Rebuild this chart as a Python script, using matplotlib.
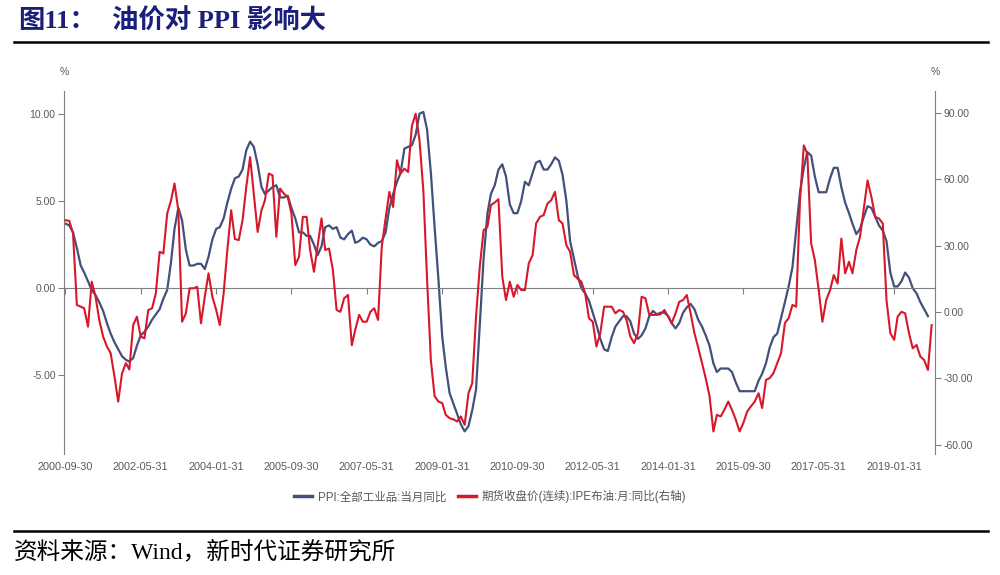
import pandas as pd
import matplotlib
matplotlib.use("Agg")
import matplotlib.pyplot as plt
import matplotlib.dates as mdates
from matplotlib.lines import Line2D
from matplotlib.ticker import FormatStrFormatter

plt.rcParams['font.family'] = ['Liberation Sans', 'Noto Sans CJK SC', 'DejaVu Sans']

# PPI:全部工业品:当月同比 (%), monthly from 2000-09
ppi = [3.7, 3.6, 3.2, 2.3,
       1.3, 0.9, 0.4, -0.1, -0.4, -0.8, -1.3, -2.0, -2.6, -3.1, -3.5, -3.9,   # 2001
       -4.1, -4.2, -4.0, -3.3, -2.7, -2.5, -2.2, -1.8, -1.5, -1.2, -0.6, -0.1,  # 2002
       1.5, 3.4, 4.6, 3.9, 2.2, 1.3, 1.3, 1.4, 1.4, 1.1, 1.8, 2.8,            # 2003
       3.4, 3.5, 4.0, 4.9, 5.7, 6.3, 6.4, 6.8, 7.9, 8.4, 8.1, 7.1,            # 2004
       5.8, 5.4, 5.6, 5.8, 5.9, 5.2, 5.2, 5.3, 4.6, 4.0, 3.2, 3.2,            # 2005
       3.0, 3.0, 2.5, 1.9, 2.4, 3.5, 3.6, 3.4, 3.5, 2.9, 2.8, 3.1,            # 2006
       3.3, 2.6, 2.7, 2.9, 2.8, 2.5, 2.4, 2.6, 2.7, 3.2, 4.6, 5.4,            # 2007
       6.1, 6.6, 8.0, 8.1, 8.2, 8.8, 10.0, 10.1, 9.1, 6.6, 3.5, 0.5,          # 2008
       -2.8, -4.5, -6.0, -6.6, -7.2, -7.8, -8.2, -7.9, -7.0, -5.8, -2.1, 1.7, # 2009
       4.3, 5.4, 5.9, 6.8, 7.1, 6.4, 4.8, 4.3, 4.3, 5.0, 6.1, 5.9,            # 2010
       6.6, 7.2, 7.3, 6.8, 6.8, 7.1, 7.5, 7.3, 6.5, 5.0, 2.7, 1.7,            # 2011
       0.7, 0.0, -0.3, -0.7, -1.4, -2.1, -2.9, -3.5, -3.6, -2.8, -2.2, -1.9,  # 2012
       -1.6, -1.6, -1.9, -2.6, -2.9, -2.7, -2.3, -1.6, -1.3, -1.5, -1.4, -1.4,  # 2013
       -1.6, -2.0, -2.3, -2.0, -1.4, -1.1, -0.9, -1.2, -1.8, -2.2, -2.7, -3.3,  # 2014
       -4.3, -4.8, -4.6, -4.6, -4.6, -4.8, -5.4, -5.9, -5.9, -5.9, -5.9, -5.9,  # 2015
       -5.3, -4.9, -4.3, -3.4, -2.8, -2.6, -1.7, -0.8, 0.1, 1.2, 3.3, 5.5,    # 2016
       6.9, 7.8, 7.6, 6.4, 5.5, 5.5, 5.5, 6.3, 6.9, 6.9, 5.8, 4.9,            # 2017
       4.3, 3.7, 3.1, 3.4, 4.1, 4.7, 4.6, 4.1, 3.6, 3.3, 2.7, 0.9,            # 2018
       0.1, 0.1, 0.4, 0.9, 0.6, 0.0, -0.3, -0.8, -1.2, -1.6]                  # 2019

# 期货收盘价(连续):IPE布油:月:同比 (%), monthly from 2000-09
oil = [41.5, 41.2, 35.5, 3.2,
       2.4, 1.7, -6.6, 13.7, 6.9, -3.6, -11.1, -15.6, -18.6, -29.2, -40.5, -27.7,   # 2001
       -23.1, -26.0, -5.9, -2.1, -11.1, -11.9, 0.9, 1.7, 8.4, 27.2, 26.5, 44.5,     # 2002
       50.5, 58.1, 46.0, -4.4, -0.6, 10.7, 10.7, 11.4, -5.1, 6.9, 17.5, 6.9,        # 2003
       0.9, -5.9, 8.4, 28.0, 46.0, 33.0, 32.5, 41.5, 56.5, 70.0, 53.5, 36.2,        # 2004
       46.0, 50.5, 62.6, 61.8, 34.0, 55.8, 53.5, 52.0, 44.5, 21.2, 24.9, 43.0,      # 2005
       43.0, 28.0, 18.2, 30.2, 42.3, 28.0, 28.7, 19.0, 0.9, 0.1, 6.2, 7.7,          # 2006
       -15.0, -8.0, -1.3, -4.4, -4.4, 0.1, 1.7, -3.6, 29.5, 42.3, 54.3, 47.5,       # 2007
       68.6, 62.6, 64.8, 63.3, 84.3, 89.6, 77.6, 55.0, 15.0, -22.0, -38.0, -40.5,   # 2008
       -41.2, -46.5, -48.0, -48.5, -49.5, -47.2, -51.0, -36.7, -32.2, -2.0, 20.4, 37.0,  # 2009
       38.5, 48.3, 49.5, 51.0, 16.0, 5.4, 13.7, 6.9, 12.2, 9.9, 9.9, 22.0,          # 2010
       25.7, 40.0, 43.0, 43.8, 49.0, 50.5, 54.3, 41.5, 40.0, 30.2, 27.2, 16.7,      # 2011
       15.0, 13.7, 8.4, -2.8, -4.4, -15.6, -9.6, 2.4, 2.4, 2.4, -0.6, 0.9,          # 2012
       0.1, -3.6, -11.1, -14.1, -9.6, 6.9, 6.2, -1.3, -1.3, -1.3, -1.0, 0.9,        # 2013
       -2.1, -5.1, -0.6, 4.6, 5.4, 7.7, -0.6, -9.6, -16.0, -23.0, -30.0, -38.0,     # 2014
       -54.0, -46.5, -47.2, -44.2, -40.5, -44.2, -48.7, -54.0, -50.2, -45.0, -42.7, -40.5,  # 2015
       -36.7, -43.4, -30.7, -29.9, -27.6, -23.1, -18.6, -5.0, -2.8, 3.2, 2.4, 50.5,  # 2016
       75.3, 71.6, 31.0, 23.5, 9.9, -4.4, 5.4, 9.9, 16.7, 12.9, 33.2, 17.5,         # 2017
       22.7, 17.5, 28.0, 34.0, 47.0, 59.5, 52.0, 43.0, 42.3, 40.0, 5.4, -9.6,       # 2018
       -12.6, -2.1, 0.1, -0.6, -9.6, -16.4, -14.9, -20.2, -21.7, -26.2, -5.9]       # 2019

ppi_dates = pd.date_range('2000-09-30', periods=len(ppi), freq='ME')
oil_dates = pd.date_range('2000-09-30', periods=len(oil), freq='ME')
tick_dates = ppi_dates[::20]
tick_labels = [d.strftime('%Y-%m-%d') for d in tick_dates]

ppi_label = 'PPI:全部工业品:当月同比'
oil_label = '期货收盘价(连续):IPE布油:月:同比(右轴)'

blue = '#44507c'
red = '#d7182a'
grey = '#808080'
text_grey = '#595959'

fig = plt.figure(figsize=(10, 5.75), dpi=100)
ax = fig.add_axes([0.064, 0.2104, 0.871, 0.6313])
ax2 = ax.twinx()

ax.plot(ppi_dates, ppi, color=blue, lw=1.6)
ax2.plot(oil_dates, oil, color=red, lw=1.5)

ax.set_xlim(mdates.date2num(ppi_dates[0]) - 12, mdates.date2num(oil_dates[-1]) + 27)
ax.set_ylim(-9.5, 11.3)
ax2.set_ylim(-64.2, 99.9)

# left axis
ax.set_yticks([-5, 0, 5, 10])
ax.yaxis.set_major_formatter(FormatStrFormatter('%.2f'))
ax.tick_params(axis='y', length=4, color=grey, labelcolor=text_grey, labelsize=7.5, pad=2)
ax.spines['top'].set_visible(False)
ax.spines['right'].set_visible(False)
ax.spines['left'].set_color(grey)
ax.spines['bottom'].set_position(('data', 0))
ax.spines['bottom'].set_color(grey)

# tick marks on the zero line, labels at the bottom
tick_nums = mdates.date2num(tick_dates)
ax.set_xticks(tick_nums)
ax.tick_params(axis='x', direction='out', length=4, color=grey, labelbottom=False)
sec = ax.secondary_xaxis('bottom')
sec.set_xticks(tick_nums, tick_labels)
sec.spines['bottom'].set_visible(False)
sec.tick_params(axis='x', length=0, pad=6, labelsize=7.8, labelcolor=text_grey)

# right axis
ax2.set_yticks([-60, -30, 0, 30, 60, 90])
ax2.yaxis.set_major_formatter(FormatStrFormatter('%.2f'))
ax2.tick_params(axis='y', length=4, color=grey, labelcolor=text_grey, labelsize=7.5, pad=2)
for s in ['top', 'left', 'bottom']:
    ax2.spines[s].set_visible(False)
ax2.spines['right'].set_color(grey)

ax.annotate('%', xy=(0, 1), xycoords='axes fraction', xytext=(0, 14),
            textcoords='offset points', ha='center', va='center', fontsize=7.5, color=text_grey)
ax.annotate('%', xy=(1, 1), xycoords='axes fraction', xytext=(0, 14),
            textcoords='offset points', ha='center', va='center', fontsize=7.5, color=text_grey)

# legend
handles = [Line2D([], [], color=blue, lw=2.5), Line2D([], [], color=red, lw=2.5)]
fig.legend(handles, [ppi_label, oil_label], loc='center', bbox_to_anchor=(0.49, 0.136),
           ncol=2, frameon=False, fontsize=8.3, handlelength=1.6, columnspacing=1.0,
           handletextpad=0.5, labelcolor=text_grey)

# title, rules and source
serif_cjk = ['Liberation Serif', 'Noto Sans CJK SC']
fig.text(0.018, 0.963, '图11：', fontsize=19, fontweight='bold', color='#1a1f7a',
         family=serif_cjk, ha='left', va='center')
fig.text(0.112, 0.963, '油价对 PPI 影响大', fontsize=19, fontweight='bold', color='#1a1f7a',
         family=serif_cjk, ha='left', va='center')
fig.add_artist(Line2D([0.014, 0.988], [0.9278, 0.9278], transform=fig.transFigure, color='black', lw=1.8))
fig.add_artist(Line2D([0.014, 0.988], [0.0765, 0.0765], transform=fig.transFigure, color='black', lw=1.8))
fig.text(0.014, 0.041, '资料来源：Wind，新时代证券研究所', fontsize=17, color='black',
         family=serif_cjk, ha='left', va='center')

fig.savefig('out.png', dpi=100)
